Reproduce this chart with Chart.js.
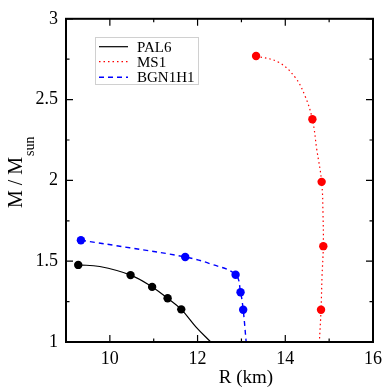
<!DOCTYPE html>
<html>
<head>
<meta charset="UTF-8">
<title>M-R curves</title>
<script src="https://cdn.jsdelivr.net/npm/chart.js@4.4.0/dist/chart.umd.min.js"></script>
<style>
    html, body { margin: 0; padding: 0; background: #fff; }
    #wrap { width: 388px; height: 387px; }
</style>
</head>
<body>
<div id="wrap"><canvas id="mr"></canvas></div>
<script>
// curves (R in km, M in solar masses)
const pal6CurveR = [9.279, 9.77, 10.472, 10.964, 11.317, 11.628, 11.961, 12.301];
const pal6CurveM = [1.477, 1.467, 1.414, 1.341, 1.271, 1.202, 1.094, 1.0];
const pal6R = [9.279, 10.472, 10.964, 11.317, 11.628];
const pal6M = [1.477, 1.414, 1.341, 1.271, 1.202];

const ms1CurveR = [13.334, 13.848, 14.226, 14.452, 14.618, 14.716, 14.829, 14.860, 14.867, 14.837, 14.815, 14.777];
const ms1CurveM = [2.770, 2.731, 2.637, 2.521, 2.378, 2.195, 1.991, 1.787, 1.593, 1.400, 1.200, 1.0];
const ms1R = [13.334, 14.618, 14.829, 14.867, 14.815];
const ms1M = [2.770, 2.378, 1.991, 1.593, 1.200];

const bgnCurveR = [9.340, 10.45, 11.718, 12.30, 12.867, 12.980, 13.040, 13.108];
const bgnCurveM = [1.630, 1.583, 1.526, 1.483, 1.416, 1.308, 1.200, 1.0];
const bgnR = [9.340, 11.718, 12.867, 12.980, 13.040];
const bgnM = [1.630, 1.526, 1.416, 1.308, 1.200];

const xMajor = [10, 12, 14, 16];
const yMajor = [1, 1.5, 2, 2.5, 3];

const serif = "'Liberation Serif', 'DejaVu Serif', serif";

function pts(rs, ms) {
    return rs.map((r, i) => ({x: r, y: ms[i]}));
}

function curve(label, rs, ms, color, dash, width) {
    return {
        type: 'line', label: label, data: pts(rs, ms),
        borderColor: color, borderWidth: width, borderDash: dash,
        pointRadius: 0, tension: 0.4, fill: false, isCurve: true
    };
}

function dots(rs, ms, color) {
    return {
        type: 'scatter', label: '', data: pts(rs, ms),
        backgroundColor: color, borderWidth: 0, pointRadius: 4.2, showLine: false
    };
}

// box, inward ticks, axis titles and legend
const decor = {
    id: 'decor',
    afterDraw(chart) {
        const ctx = chart.ctx, a = chart.chartArea;
        const sx = chart.scales.x, sy = chart.scales.y;
        ctx.save();
        ctx.strokeStyle = '#000';
        ctx.lineWidth = 1.2;
        ctx.beginPath();
        for (let r = 9; r <= 16; r++) {
            const px = sx.getPixelForValue(r);
            const len = xMajor.includes(r) ? 7 : 3.5;
            ctx.moveTo(px, a.bottom); ctx.lineTo(px, a.bottom - len);
            ctx.moveTo(px, a.top); ctx.lineTo(px, a.top + len);
        }
        for (let k = 0; k <= 8; k++) {
            const m = 1 + k * 0.25;
            const py = sy.getPixelForValue(m);
            const len = k % 2 === 0 ? 7 : 3.5;
            ctx.moveTo(a.left, py); ctx.lineTo(a.left + len, py);
            ctx.moveTo(a.right, py); ctx.lineTo(a.right - len, py);
        }
        ctx.stroke();
        ctx.lineWidth = 2;
        ctx.strokeRect(a.left, a.top, a.right - a.left, a.bottom - a.top);

        // axis titles
        ctx.fillStyle = '#000';
        ctx.textBaseline = 'alphabetic';
        ctx.font = '19px ' + serif;
        ctx.textAlign = 'center';
        ctx.fillText('R (km)', 246, 383);

        ctx.save();
        ctx.translate(22, 208);
        ctx.rotate(-Math.PI / 2);
        ctx.textAlign = 'left';
        ctx.font = '20px ' + serif;
        ctx.fillText('M / M', 0, 0);
        const w = ctx.measureText('M / M').width;
        ctx.font = '14px ' + serif;
        ctx.fillText('sun', w + 1, 12);
        ctx.restore();

        // legend
        ctx.lineWidth = 1;
        ctx.strokeStyle = '#d0d0d0';
        ctx.strokeRect(95.5, 37.5, 103, 47);
        ctx.font = '15px ' + serif;
        ctx.textAlign = 'left';
        ctx.textBaseline = 'middle';
        const rows = [46.7, 61.7, 77.3];
        chart.data.datasets.filter(d => d.isCurve).forEach((d, i) => {
            ctx.strokeStyle = d.borderColor;
            ctx.lineWidth = d.borderWidth;
            ctx.setLineDash(d.borderDash);
            ctx.beginPath();
            ctx.moveTo(99, rows[i]); ctx.lineTo(128, rows[i]);
            ctx.stroke();
            ctx.setLineDash([]);
            ctx.fillStyle = '#000';
            ctx.fillText(d.label, 137, rows[i] + 1);
        });
        ctx.restore();
    }
};

new Chart(document.getElementById('mr'), {
    data: {
        datasets: [
            curve('PAL6', pal6CurveR, pal6CurveM, '#000000', [], 1.2),
            curve('MS1', ms1CurveR, ms1CurveM, '#ff0000', [1.5, 3], 1.2),
            curve('BGN1H1', bgnCurveR, bgnCurveM, '#0000ff', [5, 4], 1.4),
            dots(pal6R, pal6M, '#000000'),
            dots(ms1R, ms1M, '#ff0000'),
            dots(bgnR, bgnM, '#0000ff')
        ]
    },
    options: {
        responsive: true,
        maintainAspectRatio: false,
        animation: false,
        layout: { padding: { top: 15, right: 13, left: 0, bottom: 0 } },
        plugins: { legend: { display: false }, tooltip: { enabled: false } },
        scales: {
            x: {
                type: 'linear', min: 9, max: 16,
                grid: { display: false, drawTicks: false },
                border: { display: false },
                ticks: {
                    stepSize: 1, padding: 6, color: '#000',
                    font: { family: serif, size: 18 },
                    callback: v => xMajor.includes(v) ? String(v) : ''
                },
                afterFit(s) { s.height = 45; }
            },
            y: {
                type: 'linear', min: 1, max: 3,
                grid: { display: false, drawTicks: false },
                border: { display: false },
                ticks: {
                    stepSize: 0.25, padding: 8, color: '#000',
                    font: { family: serif, size: 18 },
                    callback: v => yMajor.includes(v) ? String(v) : ''
                },
                afterFit(s) { s.width = 66; }
            }
        }
    },
    plugins: [decor]
});
</script>
</body>
</html>
